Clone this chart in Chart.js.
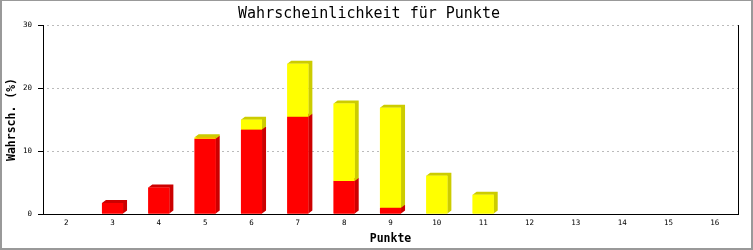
<!DOCTYPE html>
<html>
<head>
<meta charset="utf-8">
<script src="https://cdn.jsdelivr.net/npm/chart.js@4/dist/chart.umd.min.js"></script>
<style>
html,body{margin:0;padding:0;background:#fff;}
#wrap{width:753px;height:250px;position:relative;}
canvas{display:block;}
</style>
</head>
<body>
<div id="wrap"><canvas id="c" width="753" height="250"></canvas></div>
<script>
const categories = ['2','3','4','5','6','7','8','9','10','11','12','13','14','15','16'];
const redValues    = [0, 1.75, 4.2, 11.95, 13.4, 15.45, 5.25, 1.0, 0, 0, 0, 0, 0, 0, 0];
const yellowValues = [0, 0, 0, 0.22, 1.57, 8.4, 12.27, 15.87, 6.08, 3.06, 0, 0, 0, 0, 0];
const yTicks = [0, 10, 20, 30];
const titleText = 'Wahrscheinlichkeit für Punkte';
const xTitle = 'Punkte';
const yTitle = 'Wahrsch. (%)';

const MONO = "'DejaVu Sans Mono', 'Liberation Mono', monospace";

const frame = {
  id: 'frame',
  beforeDraw(chart) {
    const ctx = chart.ctx, w = chart.width, h = chart.height;
    ctx.save();
    ctx.fillStyle = '#fff';
    ctx.fillRect(0, 0, w, h);
    ctx.fillStyle = '#999';
    ctx.fillRect(0, 0, w, 1);
    ctx.fillRect(0, 0, 2, h);
    ctx.fillRect(w - 2, 0, 2, h);
    ctx.fillRect(0, h - 2, w, 2);
    ctx.restore();
  },
  afterDraw(chart) {
    const ctx = chart.ctx, a = chart.chartArea;
    ctx.save();
    ctx.strokeStyle = '#000';
    ctx.lineWidth = 1;
    ctx.beginPath();
    const x = Math.round(a.right) + 0.5;
    ctx.moveTo(x, a.top);
    ctx.lineTo(x, a.bottom);
    ctx.stroke();
    ctx.restore();
  }
};

const bars3d = {
  id: 'bars3d',
  afterDatasetsDraw(chart) {
    const ctx = chart.ctx;
    const dx = 4, dy = 3;
    [0, 1].forEach(di => {
      const meta = chart.getDatasetMeta(di);
      const ds = chart.data.datasets[di];
      meta.data.forEach((el, i) => {
        if (!ds.data[i]) return;
        const p = el.getProps(['x', 'y', 'base', 'width'], true);
        const l = p.x - p.width / 2, r = p.x + p.width / 2;
        const top = Math.min(p.y, p.base), bot = Math.max(p.y, p.base);
        ctx.save();
        ctx.fillStyle = ds.sideColor;
        ctx.beginPath();
        ctx.moveTo(r, bot);
        ctx.lineTo(r + dx, bot - dy);
        ctx.lineTo(r + dx, top - dy);
        ctx.lineTo(l + dx, top - dy);
        ctx.lineTo(l, top);
        ctx.lineTo(r, top);
        ctx.closePath();
        ctx.fill();
        ctx.restore();
        el.draw(ctx);
      });
    });
  }
};

new Chart(document.getElementById('c'), {
  type: 'bar',
  data: {
    labels: categories,
    datasets: [
      { label: 'rot', data: redValues, backgroundColor: '#ff0000', sideColor: '#cc0000', stack: 's' },
      { label: 'gelb', data: yellowValues, backgroundColor: '#ffff00', sideColor: '#cccc00', stack: 's' }
    ]
  },
  options: {
    responsive: false,
    animation: false,
    events: [],
    layout: { padding: { left: 0, right: 15, top: 0, bottom: 0 } },
    datasets: { bar: { categoryPercentage: 1, barPercentage: 0.455, borderWidth: 0 } },
    plugins: {
      legend: { display: false },
      tooltip: { enabled: false },
      title: {
        display: true,
        text: titleText,
        color: '#000',
        font: { family: MONO, size: 15, weight: 'normal', lineHeight: 1.2 },
        padding: { top: 5, bottom: 2 }
      }
    },
    scales: {
      x: {
        stacked: true,
        offset: true,
        afterFit(s) { s.height = 36; },
        grid: { display: false, drawTicks: false },
        border: { display: true, color: '#000', width: 1 },
        ticks: { color: '#000', font: { family: MONO, size: 7.5 }, padding: 5, maxRotation: 0, autoSkip: false },
        title: { display: true, text: xTitle, color: '#000', font: { family: MONO, size: 11.5, weight: 'bold', lineHeight: 1.2 }, padding: { top: 0, bottom: 4 } }
      },
      y: {
        stacked: true,
        min: 0,
        max: 30,
        afterFit(s) { s.width = 43; },
        afterBuildTicks(s) { s.ticks = yTicks.map(v => ({ value: v })); },
        grid: {
          color: ctx => (ctx.tick && ctx.tick.value === 0) ? 'rgba(0,0,0,0)' : '#bbbbbb',
          drawTicks: true,
          tickLength: 5,
          tickColor: '#000',
          tickWidth: 1,
          tickBorderDash: [],
          lineWidth: 1
        },
        border: { display: true, color: '#000', width: 1, dash: [2, 3], dashOffset: 2 },
        ticks: { color: '#000', font: { family: MONO, size: 7.5 }, padding: 6 },
        title: { display: true, text: yTitle, color: '#000', font: { family: MONO, size: 11.5, weight: 'bold', lineHeight: 1.2 }, padding: { top: 5, bottom: 0 } }
      }
    }
  },
  plugins: [frame, bars3d]
});
</script>
</body>
</html>
